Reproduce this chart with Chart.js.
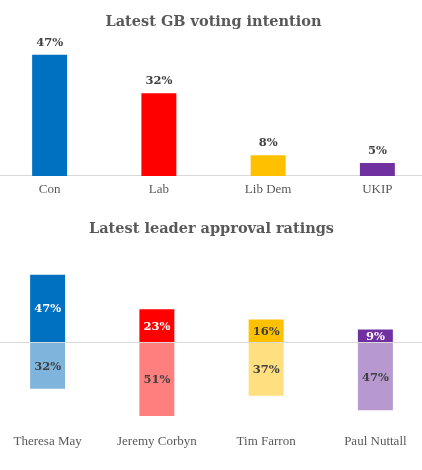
<!DOCTYPE html>
<html>
<head>
<meta charset="utf-8">
<script src="https://cdn.jsdelivr.net/npm/chart.js@4"></script>
<style>
  body { margin: 0; background: #fff; overflow: hidden; width: 422px; height: 470px; }
  .box { position: absolute; width: 437px; }
</style>
</head>
<body>
<div class="box" style="left:-5px; top:0; height:207px;"><canvas id="vote-chart"></canvas></div>
<div class="box" style="left:-7px; top:200px; height:270px;"><canvas id="leader-chart"></canvas></div>
<script>
// data
const parties = ['Con', 'Lab', 'Lib Dem', 'UKIP'];
const voteShare = [47, 32, 8, 5];
const leaders = ['Theresa May', 'Jeremy Corbyn', 'Tim Farron', 'Paul Nuttall'];
const approve = [47, 23, 16, 9];
const disapprove = [32, 51, 37, 47];

// colours
const partyColors = ['#0070C0', '#FF0000', '#FFC000', '#7030A0'];
const lightColors = ['#7FB4DC', '#FF7F7F', '#FFDF7F', '#B798CF'];
const SERIF = '"DejaVu Serif", serif';
const LABEL_SERIF = '"Liberation Serif", serif';
const TEXT_GREY = '#595959';
const DARK = '#404040';

// draws the % numbers on/above the bars
const valueLabels = {
  id: 'valueLabels',
  afterDatasetsDraw(chart, args, opts) {
    const ctx = chart.ctx;
    chart.data.datasets.forEach((ds, i) => {
      const meta = chart.getDatasetMeta(i);
      meta.data.forEach((bar, j) => {
        const v = Math.abs(ds.data[j]);
        ctx.save();
        ctx.font = 'bold 11.5px ' + SERIF;
        ctx.textAlign = 'center';
        ctx.fillStyle = ds.labelColors ? ds.labelColors[j] : DARK;
        if (opts.inside) {
          ctx.textBaseline = 'middle';
          ctx.fillText(v + '%', bar.x, (bar.y + bar.base) / 2 + 1);
        } else {
          ctx.textBaseline = 'alphabetic';
          ctx.fillText(v + '%', bar.x, bar.y - 9);
        }
        ctx.restore();
      });
    });
  }
};

function titleOpts(text, top, bottom) {
  return {
    display: true,
    text: text,
    color: TEXT_GREY,
    font: { family: SERIF, size: 14.5, weight: 'bold' },
    padding: { top: top, bottom: bottom }
  };
}

function xAxis(borderColor, pad) {
  return {
    stacked: true,
    grid: { display: false, drawTicks: false },
    border: borderColor ? { display: true, color: borderColor } : { display: false },
    ticks: { color: TEXT_GREY, padding: pad, font: { family: LABEL_SERIF, size: 13 } }
  };
}

new Chart(document.getElementById('vote-chart'), {
  type: 'bar',
  data: {
    labels: parties,
    datasets: [{
      data: voteShare,
      backgroundColor: partyColors,
      barPercentage: 0.32,
      categoryPercentage: 1
    }]
  },
  options: {
    responsive: true,
    maintainAspectRatio: false,
    animation: false,
    layout: { padding: { bottom: 4.5 } },
    scales: {
      x: xAxis('#d9d9d9', 5.5),
      y: { display: false, min: 0, max: 50 }
    },
    plugins: {
      legend: { display: false },
      tooltip: { enabled: false },
      title: titleOpts('Latest GB voting intention', 14, 15.5),
      valueLabels: { inside: false }
    }
  },
  plugins: [valueLabels]
});

new Chart(document.getElementById('leader-chart'), {
  type: 'bar',
  data: {
    labels: leaders,
    datasets: [{
      data: approve,
      backgroundColor: partyColors,
      labelColors: ['#fff', '#fff', DARK, '#fff'],
      barPercentage: 0.32,
      categoryPercentage: 1
    }, {
      data: disapprove.map(v => -v),
      backgroundColor: lightColors,
      labelColors: [DARK, DARK, DARK, DARK],
      barPercentage: 0.32,
      categoryPercentage: 1
    }]
  },
  options: {
    responsive: true,
    maintainAspectRatio: false,
    animation: false,
    layout: { padding: { bottom: 15 } },
    scales: {
      x: xAxis(null, 5.2),
      y: {
        stacked: true,
        min: -60,
        max: 60,
        border: { display: false },
        ticks: { display: false, stepSize: 10 },
        grid: {
          drawTicks: false,
          color: c => c.tick.value === 0 ? '#d9d9d9' : 'rgba(0,0,0,0)'
        }
      }
    },
    plugins: {
      legend: { display: false },
      tooltip: { enabled: false },
      title: titleOpts('Latest leader approval ratings', 21, 17.6),
      valueLabels: { inside: true }
    }
  },
  plugins: [valueLabels]
});
</script>
</body>
</html>
